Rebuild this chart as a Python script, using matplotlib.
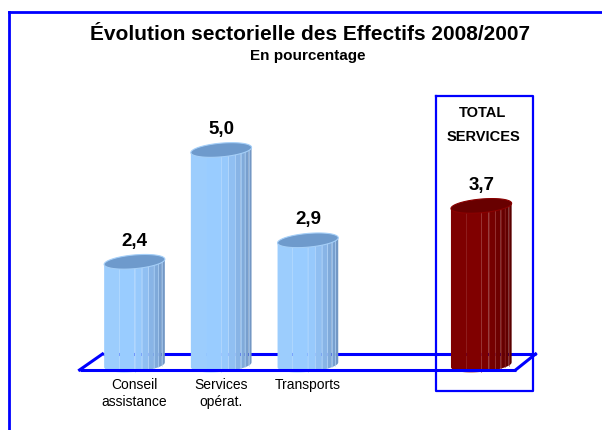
import numpy as np
import matplotlib
matplotlib.use("Agg")
import matplotlib.pyplot as plt
from matplotlib.patches import Polygon

plt.rcParams['font.family'] = ['Liberation Sans', 'DejaVu Sans']

# ---- data ----
categories = ["Conseil\nassistance", "Services\nopérat.", "Transports", "TOTAL\nSERVICES"]
values = [2.4, 5.0, 2.9, 3.7]
value_labels = ["2,4", "5,0", "2,9", "3,7"]
positions = [0, 1, 2, 4]
title = "Évolution sectorielle des Effectifs 2008/2007"
subtitle = "En pourcentage"

W, H = 602, 431
fig = plt.figure(figsize=(W / 100, H / 100), dpi=100)

# axes: x unit = 86.7 px, y unit = 43 px, y=0 at pixel 366
xu, yu = 86.7, 43.0
xlim = (-0.7, 4.7)
ylim = (-0.5, 5.5)
left_px = 134.5 - (0 - xlim[0]) * xu
bottom_px = 366 + (0 - ylim[0]) * yu
ax = fig.add_axes([left_px / W, (H - bottom_px) / H,
                   (xlim[1] - xlim[0]) * xu / W, (ylim[1] - ylim[0]) * yu / H])
ax.set_xlim(*xlim)
ax.set_ylim(*ylim)
ax.axis('off')

blue = "#0000FF"

# frame (left and top edges)
fig.add_artist(plt.Line2D([9 / W, 9 / W], [0, 1 - 13 / H], transform=fig.transFigure, color=blue, lw=2))
fig.add_artist(plt.Line2D([9 / W, 1], [1 - 13 / H, 1 - 13 / H], transform=fig.transFigure, color=blue, lw=2))

# floor parallelogram
fy0, fy1 = -0.116, 0.256
fx0, fx1 = -0.634, 4.395
bx0, bx1 = -0.369, 4.626
ax.plot([bx0, bx1], [fy1, fy1], color=blue, lw=2.2, zorder=1, solid_capstyle='butt')
ax.plot([fx0, bx0], [fy0, fy1], color=blue, lw=2.2, zorder=1)
ax.plot([fx1, bx1], [fy0, fy1], color=blue, lw=2.2, zorder=5)
ax.plot([fx0, fx1], [fy0, fy0], color=blue, lw=2.2, zorder=5, solid_capstyle='butt')

# total box
ax.plot([3.472, 4.591, 4.591, 3.472, 3.472], [6.256, 6.256, -0.605, -0.605, 6.256],
        color=blue, lw=1.6, clip_on=False, zorder=6)

bw = 0.70      # bar width in x units
eh = 0.32      # ellipse height in y units
tilt = 0.12    # rise across width in y units

blue_strips = ["#9CCDFD", "#99CCFF", "#97C9FC", "#90BFF2", "#88B4E6",
               "#80AADA", "#789FCE", "#7397C4"]
blue_edges = "#B4D9FF"
blue_top = "#6E9ACC"
blue_top_edge = "#A5CFF8"
red_strips = ["#7E0000", "#800000", "#7C0000", "#750000", "#6D0000",
              "#660000", "#600000", "#5A0000"]
red_edges = "#9A3030"
red_top = "#680000"
red_top_edge = "#8A0000"
frac = np.array([0, 0.25, 0.5, 0.62, 0.73, 0.82, 0.89, 0.95, 1.0])

def cylinder(xc, v, strips, edge_c, top_c, top_edge):
    n = len(strips)
    r = bw / 2
    xs = xc - r + frac * bw
    def bottom(x):
        t = np.clip((x - xc) / r, -1, 1)
        return -eh / 2 * np.sqrt(1 - t ** 2) + tilt * (x - xc) / bw
    def topc(x):
        return v + tilt * (x - xc) / bw
    for i in range(n):
        xx = np.linspace(xs[i], xs[i + 1], 10)
        pts = list(zip(xx, topc(xx))) + list(zip(xx[::-1], bottom(xx[::-1])))
        ax.add_patch(Polygon(pts, closed=True, facecolor=strips[i], edgecolor='none', zorder=3))
        if i > 1:
            ax.plot([xs[i], xs[i]], [bottom(xs[i]), topc(xs[i])], color=edge_c,
                    lw=0.5, alpha=0.8, zorder=3.1)
    t = np.linspace(0, 2 * np.pi, 100)
    ex = xc + r * np.cos(t)
    ey = v + eh / 2 * np.sin(t) + tilt * (ex - xc) / bw
    ax.add_patch(Polygon(list(zip(ex, ey)), closed=True, facecolor=top_c,
                         edgecolor=top_edge, lw=0.8, zorder=4))

for i, (p, v) in enumerate(zip(positions, values)):
    if i == len(values) - 1:
        cylinder(p, v, red_strips, red_edges, red_top, red_top_edge)
    else:
        cylinder(p, v, blue_strips, blue_edges, blue_top, blue_top_edge)
    ax.text(p, v + 0.5, value_labels[i], ha='center', va='center',
            fontsize=13.5, fontweight='bold', zorder=7)

# category labels
for i, (p, c) in enumerate(zip(positions, categories)):
    if i == len(categories) - 1:
        ax.text(p + 0.02, 5.6, c, ha='center', va='center', fontsize=10.5,
                fontweight='bold', linespacing=1.95, zorder=7)
    else:
        ax.text(p, -0.27, c, ha='center', va='top', fontsize=10,
                linespacing=1.3, zorder=7)

fig.text(310.5 / W, 1 - 34 / H, title, ha='center', va='center', fontsize=15, fontweight='bold')
fig.text(308 / W, 1 - 56 / H, subtitle, ha='center', va='center', fontsize=11, fontweight='bold')

fig.savefig("out.png", dpi=100)
